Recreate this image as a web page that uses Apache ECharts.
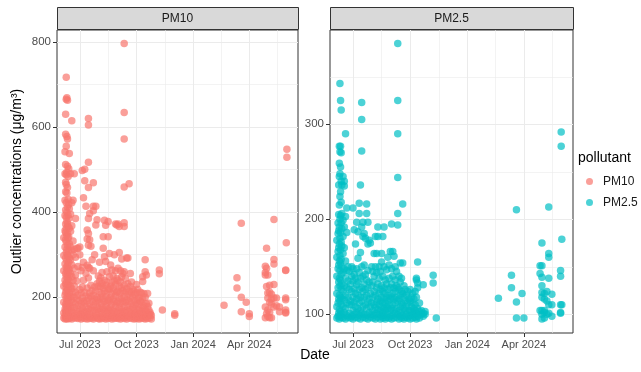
<!DOCTYPE html>
<html>
<head>
<meta charset="utf-8">
<script src="https://cdn.jsdelivr.net/npm/echarts@6/dist/echarts.min.js"></script>
<style>
html, body { margin: 0; padding: 0; background: #fff; }
#chart { width: 641px; height: 372px; }
</style>
</head>
<body>
<div id="chart"></div>
<script>
// facets / legend entries
var pollutants = ['PM10', 'PM2.5'];
var pollutantColors = ['#F8766D', '#00BFC4'];

// x axis (shared by both panels)
var dateRange = ['2023-05-25', '2024-06-19'];
var dateTicks = ['2023-07-01', '2023-10-01', '2024-01-01', '2024-04-01'];
var dateTickLabels = ['Jul 2023', 'Oct 2023', 'Jan 2024', 'Apr 2024'];
var dateMinor = ['2023-08-16', '2023-11-16', '2024-02-15', '2024-05-16'];

// y axes (free scales)
var pm10Range = [116, 828];
var pm10Ticks = [200, 400, 600, 800];
var pm10Minor = [300, 500, 700];
var pm25Range = [80.3, 399.3];
var pm25Ticks = [100, 200, 300];
var pm25Minor = [150, 250, 350];

// outliers, grouped by day: [date, [values]]
var pm10Rows = [
    ['2023-06-05', [151, 163, 188, 226, 262, 298, 340]],
    ['2023-06-07', [149, 158, 172, 205, 240, 278, 318, 356, 392, 428, 490, 542]],
    ['2023-06-08', [153, 168, 183, 212, 232, 255, 292, 335, 352, 372, 405, 448, 470, 512, 583, 630]],
    ['2023-06-09', [150, 161, 178, 197, 222, 248, 270, 305, 330, 362, 388, 422, 465, 488, 555, 665, 717]],
    ['2023-06-10', [156, 170, 190, 215, 236, 262, 286, 312, 345, 378, 400, 445, 494, 578, 669]],
    ['2023-06-11', [149, 165, 182, 204, 228, 252, 275, 300, 322, 350, 372, 412, 458, 508, 572, 663]],
    ['2023-06-12', [152, 175, 196, 218, 244, 268, 296, 338, 366, 392, 430, 484]],
    ['2023-06-13', [158, 172, 200, 230, 258, 282, 310, 342, 385, 418, 502]],
    ['2023-06-14', [150, 166, 186, 210, 238, 264, 292, 326, 362, 408, 538]],
    ['2023-06-16', [153, 178, 202, 226, 256, 288, 318, 355, 395, 490]],
    ['2023-06-18', [149, 170, 194, 220, 248, 276, 310, 368, 422, 615]],
    ['2023-06-20', [155, 164, 188, 212, 240, 300, 332, 428]],
    ['2023-06-22', [151, 176, 200, 226, 268, 312, 490]],
    ['2023-06-24', [158, 184, 212, 252, 294, 385]],
    ['2023-06-26', [152, 167, 196, 238, 315]],
    ['2023-06-28', [150, 162, 180, 205, 272, 315]],
    ['2023-07-01', [154, 170, 192, 218, 300, 318]],
    ['2023-07-03', [149, 160, 185, 210, 262]],
    ['2023-07-05', [152, 175, 198, 224, 270, 498]],
    ['2023-07-07', [157, 168, 190, 240, 282, 434]],
    ['2023-07-09', [150, 164, 186, 212, 474, 501]],
    ['2023-07-11', [155, 178, 203, 256, 414]],
    ['2023-07-13', [149, 166, 192, 222, 275, 337, 358]],
    ['2023-07-15', [153, 172, 198, 245, 270, 322, 350, 385, 458, 517, 605, 620]],
    ['2023-07-17', [150, 160, 184, 210, 268, 335, 397]],
    ['2023-07-19', [156, 175, 202, 228, 320]],
    ['2023-07-21', [151, 168, 190, 216, 288]],
    ['2023-07-23', [149, 180, 205, 262, 403, 414, 469]],
    ['2023-07-25', [154, 170, 196, 224, 300]],
    ['2023-07-27', [152, 163, 188, 215, 370, 414]],
    ['2023-07-29', [158, 178, 200, 232, 382]],
    ['2023-07-31', [150, 172, 194, 226, 250]],
    ['2023-08-02', [149, 166, 188, 212, 238, 282]],
    ['2023-08-04', [153, 175, 200, 226, 246]],
    ['2023-08-06', [150, 162, 184, 208, 232, 258]],
    ['2023-08-08', [156, 172, 196, 222, 315, 342]],
    ['2023-08-10', [151, 168, 190, 214, 240, 295, 381]],
    ['2023-08-12', [149, 178, 202, 228, 284, 369]],
    ['2023-08-14', [154, 164, 186, 210, 236, 260]],
    ['2023-08-16', [150, 172, 194, 220, 342, 378]],
    ['2023-08-18', [157, 168, 192, 218, 248, 303]],
    ['2023-08-20', [152, 176, 200, 226, 276]],
    ['2023-08-22', [149, 162, 184, 208, 234, 264]],
    ['2023-08-24', [155, 170, 196, 222, 250]],
    ['2023-08-26', [150, 166, 190, 214, 238, 300]],
    ['2023-08-28', [153, 180, 204, 230, 262, 372]],
    ['2023-08-30', [151, 164, 186, 212, 244, 370]],
    ['2023-09-01', [150, 168, 190, 214, 240, 268, 372]],
    ['2023-09-03', [155, 176, 200, 226, 305, 366]],
    ['2023-09-05', [149, 162, 186, 210, 236, 262]],
    ['2023-09-07', [152, 172, 196, 222, 248, 290]],
    ['2023-09-09', [158, 166, 190, 216, 256]],
    ['2023-09-11', [150, 178, 202, 228, 260, 366, 375, 459, 572, 634, 796]],
    ['2023-09-13', [153, 164, 188, 212, 244]],
    ['2023-09-15', [149, 170, 194, 220, 292]],
    ['2023-09-17', [156, 180, 206, 232, 292]],
    ['2023-09-19', [151, 166, 190, 214, 467]],
    ['2023-09-21', [154, 172, 198, 225, 256]],
    ['2023-09-23', [150, 162, 184, 210, 236]],
    ['2023-09-25', [157, 176, 200, 218]],
    ['2023-09-27', [149, 168, 192, 214]],
    ['2023-09-29', [152, 160, 182, 206]],
    ['2023-10-01', [150, 164, 186, 210, 230]],
    ['2023-10-03', [155, 172, 196, 218]],
    ['2023-10-05', [149, 160, 182, 200]],
    ['2023-10-07', [153, 170, 192, 212]],
    ['2023-10-09', [150, 166, 188, 210]],
    ['2023-10-11', [156, 176, 196, 237, 248]],
    ['2023-10-13', [151, 162, 180, 209]],
    ['2023-10-15', [149, 172, 200, 260, 288]],
    ['2023-10-17', [154, 166, 185, 252]],
    ['2023-10-19', [150, 160, 178, 209]],
    ['2023-10-21', [157, 170, 186]],
    ['2023-10-23', [152, 160, 164]],
    ['2023-10-25', [149, 158]],
    ['2023-11-07', [255, 264]],
    ['2023-11-12', [170]],
    ['2023-12-02', [158, 161]],
    ['2024-02-20', [181]],
    ['2024-03-12', [222, 246]],
    ['2024-03-19', [166, 200, 374]],
    ['2024-03-27', [188]],
    ['2024-04-01', [155, 161]],
    ['2024-04-27', [152, 177, 252, 258, 273]],
    ['2024-04-29', [161, 225, 268, 315]],
    ['2024-05-01', [155, 170, 198, 210, 252]],
    ['2024-05-04', [152, 165, 188, 212, 228]],
    ['2024-05-07', [152, 184, 196, 207]],
    ['2024-05-11', [177, 198, 230, 278, 289, 383]],
    ['2024-05-15', [180, 198]],
    ['2024-05-20', [166, 177]],
    ['2024-05-30', [163, 165, 170, 194, 198, 263, 264]],
    ['2024-05-31', [328]],
    ['2024-06-01', [529, 548]]
];

var pm25Rows = [
    ['2023-06-05', [96, 108, 122, 140, 160, 178]],
    ['2023-06-07', [98, 112, 128, 148, 166, 185, 196]],
    ['2023-06-08', [101, 116, 134, 152, 170, 188, 205, 236]],
    ['2023-06-09', [95, 105, 120, 138, 156, 174, 192, 215, 245, 259, 277]],
    ['2023-06-10', [99, 114, 130, 146, 162, 180, 200, 224, 248, 271, 343]],
    ['2023-06-11', [103, 118, 136, 154, 168, 186, 204, 229, 255, 277, 325]],
    ['2023-06-12', [97, 110, 126, 142, 158, 176, 196, 218, 240, 270, 315]],
    ['2023-06-13', [100, 117, 132, 150, 172, 190, 206, 236]],
    ['2023-06-15', [96, 108, 124, 144, 164, 182, 199, 245]],
    ['2023-06-17', [102, 115, 130, 148, 170, 192, 235, 240]],
    ['2023-06-19', [95, 106, 120, 138, 156, 203, 290]],
    ['2023-06-21', [99, 112, 128, 146, 186, 212]],
    ['2023-06-23', [97, 118, 135, 150]],
    ['2023-06-25', [101, 110, 126, 145]],
    ['2023-06-27', [96, 114, 132]],
    ['2023-06-29', [98, 110, 124, 140, 150]],
    ['2023-07-01', [95, 104, 118, 135, 148, 212]],
    ['2023-07-03', [100, 113, 127, 142, 189]],
    ['2023-07-05', [97, 108, 122, 138, 174]],
    ['2023-07-07', [102, 116, 131, 148, 197]],
    ['2023-07-09', [96, 106, 120, 134, 159, 187]],
    ['2023-07-11', [99, 112, 126, 144, 206, 217]],
    ['2023-07-13', [95, 104, 118, 138, 165, 236]],
    ['2023-07-15', [101, 114, 128, 150, 192, 272, 305, 323]],
    ['2023-07-17', [97, 108, 124, 140, 182, 197]],
    ['2023-07-19', [100, 118, 132, 152, 185]],
    ['2023-07-21', [96, 110, 126, 142, 180]],
    ['2023-07-23', [99, 106, 120, 136, 206, 216]],
    ['2023-07-25', [95, 113, 128, 146, 174, 197]],
    ['2023-07-27', [102, 116, 134, 178]],
    ['2023-07-29', [97, 108, 122, 175]],
    ['2023-07-31', [100, 112, 130, 150]],
    ['2023-08-02', [96, 104, 118, 134, 145]],
    ['2023-08-04', [99, 110, 124, 140, 164]],
    ['2023-08-06', [95, 107, 120, 150, 182]],
    ['2023-08-08', [101, 113, 128, 144, 164]],
    ['2023-08-10', [97, 105, 116, 132, 182, 192]],
    ['2023-08-12', [100, 110, 122, 138, 150]],
    ['2023-08-14', [95, 104, 114, 126, 145]],
    ['2023-08-16', [98, 108, 118, 130, 155, 164]],
    ['2023-08-18', [96, 102, 112, 124, 140, 182]],
    ['2023-08-20', [99, 106, 116, 128, 150, 192]],
    ['2023-08-22', [95, 104, 112, 122, 136]],
    ['2023-08-24', [97, 108, 118, 132, 147]],
    ['2023-08-26', [100, 106, 114, 126, 160]],
    ['2023-08-28', [96, 110, 120, 138, 152]],
    ['2023-08-30', [98, 104, 116, 128, 166]],
    ['2023-09-01', [95, 106, 118, 132, 148, 195]],
    ['2023-09-03', [99, 110, 122, 140, 166]],
    ['2023-09-05', [96, 104, 116, 128, 161]],
    ['2023-09-07', [101, 112, 124, 136, 150]],
    ['2023-09-09', [97, 106, 118, 130, 145]],
    ['2023-09-11', [100, 114, 128, 194, 206, 244, 290, 325, 385]],
    ['2023-09-13', [95, 104, 116, 126, 140]],
    ['2023-09-15', [98, 108, 120, 134, 154]],
    ['2023-09-17', [96, 102, 112, 124, 138]],
    ['2023-09-19', [99, 110, 122, 154, 216]],
    ['2023-09-21', [95, 106, 118, 130]],
    ['2023-09-23', [97, 104, 114, 126]],
    ['2023-09-25', [100, 108, 120]],
    ['2023-09-27', [96, 112, 124]],
    ['2023-09-29', [98, 104, 116]],
    ['2023-10-01', [95, 104, 114, 126]],
    ['2023-10-03', [99, 108, 118]],
    ['2023-10-05', [96, 102, 112, 122]],
    ['2023-10-07', [100, 106, 116]],
    ['2023-10-09', [97, 104, 110, 124]],
    ['2023-10-11', [95, 101, 118, 136, 138]],
    ['2023-10-13', [98, 106, 128, 133, 155]],
    ['2023-10-16', [96, 103, 112]],
    ['2023-10-19', [100, 104]],
    ['2023-10-22', [98, 101, 131]],
    ['2023-10-25', [100, 103]],
    ['2023-11-07', [133, 141]],
    ['2023-11-12', [96]],
    ['2024-02-20', [117]],
    ['2024-03-12', [128, 141]],
    ['2024-03-20', [96, 113, 210]],
    ['2024-03-29', [122]],
    ['2024-04-01', [96]],
    ['2024-04-27', [104, 143, 151]],
    ['2024-04-30', [95, 100, 104, 118, 123, 130, 139, 151, 175]],
    ['2024-05-04', [96, 102, 104, 116, 122]],
    ['2024-05-08', [100, 114, 124]],
    ['2024-05-11', [101, 110, 138, 160, 164, 213]],
    ['2024-05-16', [98, 110, 121]],
    ['2024-05-30', [101, 102, 110, 140, 146]],
    ['2024-05-31', [277, 292]],
    ['2024-06-01', [110, 179]]
];

var FONT = '"Liberation Sans", Arial, sans-serif';

function ts(d) {
    return echarts.number.parseDate(d).getTime();
}

function points(rows) {
    var out = [];
    rows.forEach(function (r) {
        r[1].forEach(function (v) { out.push([ts(r[0]), v]); });
    });
    return out;
}

var tickTimes = dateTicks.map(ts);

function dateLabel(v) {
    for (var i = 0; i < tickTimes.length; i++) {
        if (Math.abs(tickTimes[i] - v) < 43200000) return dateTickLabels[i];
    }
    return '';
}

// panel geometry
var panels = [
    {left: 57, top: 30, width: 241, height: 303},
    {left: 330, top: 30, width: 243, height: 303}
];

function xAxisFor(i) {
    return {
        type: 'value', gridIndex: i,
        min: ts(dateRange[0]), max: ts(dateRange[1]),
        axisLine: {show: false},
        axisTick: {show: true, length: 4, customValues: tickTimes, lineStyle: {color: '#333333'}},
        axisLabel: {customValues: tickTimes, formatter: dateLabel, color: '#4D4D4D',
                    fontSize: 11, margin: 6, fontFamily: FONT, hideOverlap: false},
        splitLine: {show: true, lineStyle: {color: '#EBEBEB', width: 1}}
    };
}

function yAxisFor(i, range, ticks) {
    return {
        type: 'value', gridIndex: i,
        min: range[0], max: range[1],
        axisLine: {show: false},
        axisTick: {show: true, length: 4, customValues: ticks, lineStyle: {color: '#333333'}},
        axisLabel: {customValues: ticks, color: '#4D4D4D', fontSize: 11.5, margin: 6, fontFamily: FONT},
        splitLine: {show: true, lineStyle: {color: '#EBEBEB', width: 1}}
    };
}

function minorLines(i, yMinor) {
    var lines = dateMinor.map(function (d) { return {xAxis: ts(d)}; })
        .concat(yMinor.map(function (v) { return {yAxis: v}; }));
    return {
        type: 'scatter', xAxisIndex: i, yAxisIndex: i, data: [], silent: true, z: 1,
        markLine: {
            silent: true, symbol: 'none', label: {show: false}, z: 1,
            lineStyle: {color: '#EBEBEB', width: 0.6, type: 'solid'},
            emphasis: {disabled: true},
            data: lines
        }
    };
}

function scatter(i, rows) {
    return {
        name: pollutants[i], type: 'scatter', xAxisIndex: i, yAxisIndex: i,
        data: points(rows), symbolSize: 7.5, z: 3,
        itemStyle: {color: pollutantColors[i], opacity: 0.7},
        emphasis: {disabled: true}
    };
}

var yTitle = yAxisFor(0, pm10Range, pm10Ticks);
yTitle.name = 'Outlier concentrations (μg/m³)';
yTitle.nameLocation = 'middle';
yTitle.nameGap = 33;
yTitle.nameRotate = 90;
yTitle.nameTextStyle = {fontSize: 14, color: '#000', fontFamily: FONT};

var graphics = [];
panels.forEach(function (p, i) {
    graphics.push({
        type: 'rect', silent: true,
        shape: {x: p.left + 0.5, y: 7.5, width: p.width, height: 22},
        style: {fill: '#D9D9D9', stroke: '#333333', lineWidth: 1}
    });
    graphics.push({
        type: 'text', silent: true, x: p.left + p.width / 2, y: 19,
        style: {text: pollutants[i], fill: '#1A1A1A', font: '12px ' + FONT, align: 'center', verticalAlign: 'middle'}
    });
});
graphics.push({
    type: 'text', silent: true, x: 315, y: 355,
    style: {text: 'Date', fill: '#000', font: '14px ' + FONT, align: 'center', verticalAlign: 'middle'}
});
graphics.push({
    type: 'text', silent: true, x: 578, y: 158,
    style: {text: 'pollutant', fill: '#000', font: '14px ' + FONT, align: 'left', verticalAlign: 'middle'}
});

var chart = echarts.init(document.getElementById('chart'), null, {renderer: 'canvas'});
chart.setOption({
    animation: false,
    backgroundColor: '#fff',
    textStyle: {fontFamily: FONT},
    grid: panels.map(function (p) {
        return {left: p.left, top: p.top, width: p.width, height: p.height,
                show: true, backgroundColor: '#fff', borderColor: '#333333', borderWidth: 1};
    }),
    xAxis: [xAxisFor(0), xAxisFor(1)],
    yAxis: [yTitle, yAxisFor(1, pm25Range, pm25Ticks)],
    legend: {
        data: pollutants, orient: 'vertical', left: 586, top: 175, padding: 0,
        icon: 'circle', itemWidth: 17, itemHeight: 7, itemGap: 8,
        textStyle: {fontSize: 12, color: '#1A1A1A', fontFamily: FONT, lineHeight: 13},
        selectedMode: false
    },
    graphic: graphics,
    series: [
        minorLines(0, pm10Minor),
        minorLines(1, pm25Minor),
        scatter(0, pm10Rows),
        scatter(1, pm25Rows)
    ]
});
</script>
</body>
</html>
